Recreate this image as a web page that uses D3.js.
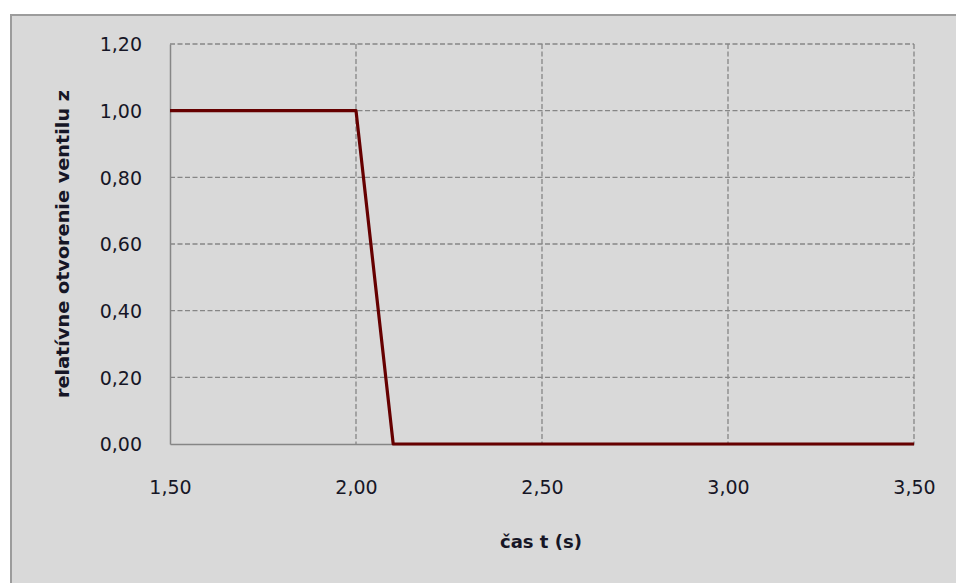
<!DOCTYPE html>
<html>
<head>
<meta charset="utf-8">
<script src="https://cdn.jsdelivr.net/npm/d3@7"></script>
<style>
  html, body { margin: 0; padding: 0; background: #ffffff; }
  svg { display: block; }
</style>
</head>
<body>
<svg id="chart" width="956" height="583"></svg>
<script>
// Valve closing curve: relative opening z versus time t
const timeValues = [1.50, 2.00, 2.005, 2.01, 2.015, 2.02, 2.025, 2.03, 2.035, 2.04, 2.045,
                    2.05, 2.055, 2.06, 2.065, 2.07, 2.075, 2.08, 2.085, 2.09, 2.095, 2.10, 3.50];
const openingValues = [1.00, 1.00, 0.95, 0.90, 0.85, 0.80, 0.75, 0.70, 0.65, 0.60, 0.55,
                       0.50, 0.45, 0.40, 0.35, 0.30, 0.25, 0.20, 0.15, 0.10, 0.05, 0.00, 0.00];
const xTicks = [1.50, 2.00, 2.50, 3.00, 3.50];
const yTicks = [0.00, 0.20, 0.40, 0.60, 0.80, 1.00, 1.20];
const xTitle = "čas t (s)";
const yTitle = "relatívne otvorenie ventilu z";

const svg = d3.select("#chart");
const W = 956, H = 583;
const plot = { left: 170, top: 44, right: 914, bottom: 444 };

const fmt = v => d3.format(".2f")(v).replace(".", ",");
const tickFont = "'DejaVu Sans', Verdana, sans-serif";

// chart frame
svg.append("rect")
  .attr("x", 11).attr("y", 15)
  .attr("width", W).attr("height", H)
  .attr("fill", "#d9d9d9")
  .attr("stroke", "#9c9c9c")
  .attr("stroke-width", 2);

const x = d3.scaleLinear().domain([1.5, 3.5]).range([plot.left, plot.right]);
const y = d3.scaleLinear().domain([0, 1.2]).range([plot.bottom, plot.top]);

// gridlines
const grid = svg.append("g");
grid.selectAll("line.h")
  .data(yTicks.filter(v => v > 0))
  .join("line")
  .attr("x1", plot.left).attr("x2", plot.right)
  .attr("y1", d => y(d)).attr("y2", d => y(d))
  .attr("stroke", "#868686").attr("stroke-width", 1.3)
  .attr("stroke-dasharray", "5,2.5");
grid.selectAll("line.v")
  .data(xTicks.filter(v => v > 1.5))
  .join("line")
  .attr("x1", d => x(d)).attr("x2", d => x(d))
  .attr("y1", plot.top).attr("y2", plot.bottom)
  .attr("stroke", "#868686").attr("stroke-width", 1.3)
  .attr("stroke-dasharray", "5,2.5");

// axes
const yAxis = d3.axisLeft(y).tickValues(yTicks).tickSize(0).tickPadding(0).tickFormat(fmt);
const yG = svg.append("g").attr("transform", `translate(${plot.left},0)`).call(yAxis);
yG.select(".domain").attr("stroke", "#868686").attr("stroke-width", 1.5);
yG.selectAll("text")
  .attr("x", -28).attr("dy", "0.36em")
  .attr("font-family", tickFont)
  .attr("font-size", 19).attr("fill", "#161626");

const xAxis = d3.axisBottom(x).tickValues(xTicks).tickSize(0).tickPadding(0).tickFormat(fmt);
const xG = svg.append("g").attr("transform", `translate(0,${plot.bottom})`).call(xAxis);
xG.select(".domain").attr("stroke", "#868686").attr("stroke-width", 1.5);
xG.selectAll("text")
  .attr("y", 43).attr("dy", "0.36em")
  .attr("font-family", tickFont)
  .attr("font-size", 19).attr("fill", "#161626");

// data line
const pts = timeValues.map((t, i) => [t, openingValues[i]]);
svg.append("path")
  .datum(pts)
  .attr("fill", "none")
  .attr("stroke", "#660000")
  .attr("stroke-width", 3.2)
  .attr("stroke-linejoin", "round")
  .attr("d", d3.line().x(d => x(d[0])).y(d => y(d[1])));

// axis titles
svg.append("text")
  .attr("x", 541).attr("y", 548)
  .attr("text-anchor", "middle")
  .attr("font-family", tickFont)
  .attr("font-weight", "bold").attr("font-size", 18)
  .attr("textLength", 82).attr("lengthAdjust", "spacingAndGlyphs")
  .attr("fill", "#161626")
  .text(xTitle);

svg.append("text")
  .attr("transform", "translate(69,244) rotate(-90)")
  .attr("text-anchor", "middle")
  .attr("font-family", "'DejaVu Sans Condensed', 'DejaVu Sans', sans-serif")
  .attr("font-weight", "bold").attr("font-size", 18)
  .attr("textLength", 308).attr("lengthAdjust", "spacingAndGlyphs")
  .attr("fill", "#161626")
  .text(yTitle);
</script>
</body>
</html>
